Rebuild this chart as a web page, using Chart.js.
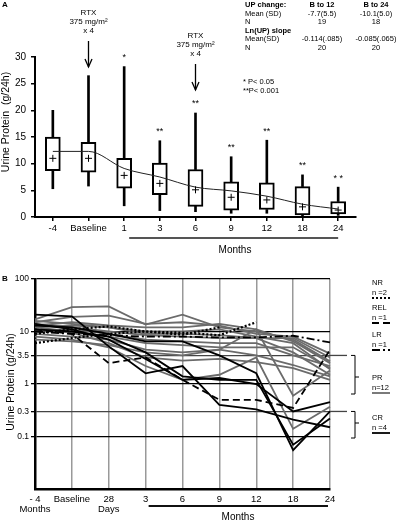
<!DOCTYPE html>
<html><head><meta charset="utf-8">
<script src="https://cdn.jsdelivr.net/npm/chart.js@4.4.1/dist/chart.umd.min.js"></script>
<style>
html,body{margin:0;padding:0;background:#fff;overflow:hidden;}
#ca{position:absolute;left:0;top:0;}
#cb{position:absolute;left:0;top:262px;}
</style></head>
<body>
<canvas id="ca" width="400" height="262"></canvas>
<canvas id="cb" width="400" height="261"></canvas>
<script>
const FONT = '"Liberation Sans", Arial, sans-serif';

/* ---------- Panel A data ---------- */
const timepointsA = ['-4', 'Baseline', '1', '3', '6', '9', '12', '18', '24'];
const whiskerMin  = [5.3, 5.8, 2.1, 1.2, 1.0, 0.7, 0.7, 0.2, 0.3];
const quartile1   = [8.7, 8.4, 5.4, 4.2, 2.0, 1.3, 1.4, 0.4, 0.6];
const quartile3   = [15.0, 14.0, 11.0, 10.1, 8.9, 6.6, 6.4, 5.7, 2.9];
const whiskerMax  = [20.0, 26.5, 28.2, 14.3, 19.5, 11.3, 14.4, 7.9, 5.6];
const meanUP      = [11.0, 11.0, 7.8, 6.3, 5.1, 3.7, 3.2, 1.9, 1.3];
const trendUP     = [12.3, 12.3, 9.1, 7.5, 5.6, 4.9, 3.9, 2.4, 1.5];
const significance = ['', '', '*', '**', '**', '**', '**', '**', '* *'];
const rtxDoseLines = ['RTX', '375 mg/m\u00B2', 'x 4'];
const rtxAtIndex = [1, 4];

const upChangeHeader = ['UP change:', 'B to 12', 'B to 24'];
const upChangeRows = [['Mean (SD)', '-7.7(5.5)', '-10.1(5.0)'], ['N', '19', '18']];
const slopeHeader = 'Ln(UP) slope';
const slopeRows = [['Mean(SD)', '-0.114(.085)', '-0.085(.065)'], ['N', '20', '20']];
const pValueNotes = ['* P< 0.05', '**P< 0.001'];

/* ---------- Panel B data ---------- */
const timepointsB = [['- 4', 'Months'], 'Baseline', ['28', 'Days'], '3', '6', '9', '12', '18', '24'];
const logTicks = [100, 10, 3.5, 1, 0.3, 0.1];

const nr1 = [6.0, 7.5, 9.0, 10.0, 9.5, 8.5, 15.0, null, null];
const nr2 = [9.0, 11.0, 12.5, 10.0, 8.7, 12.0, null, null, null];
const rel1 = [11.0, 9.0, 2.5, 3.2, 1.2, 0.5, 0.5, 0.35, 4.5];
const lr1 = [10.0, 9.0, 8.5, 8.0, 8.0, 7.7, 7.7, 8.3, 6.2];

const pr1  = [17, 29, 30, 13.5, 21, 12, 10, 7, 2.7];
const pr2  = [15, 19, 20, 14, 15, 13, 9, 8, 3.8];
const pr3  = [13, 15, 13, 12, 12, 14, 11, 6.5, 2.5];
const pr4  = [12, 13, 12, 10, 10, 11, 8, 6, 1.9];
const pr5  = [14, 12, 10, 8.5, 8, 7.5, 7.5, 4, 1.5];
const pr6  = [10, 11, 9, 7, 6.5, 6, 6, 3.5, 2.2];
const pr7  = [9, 8, 7, 4.5, 4, 4.5, 3.5, 2.3, 1.4];
const pr8  = [8, 7, 5, 2.2, 1.2, 1.5, 3.2, 0.14, 0.37];
const pr9  = [7, 6.5, 5.5, 4, 3.5, 4.5, 11, 0.6, 1.8];
const pr10 = [12, 10, 8, 6, 5.5, 5, 5, 5, 2.0];
const pr11 = [16, 14, 12, 9, 9, 8.5, 7.5, 7.5, 3.2];
const pr12 = [11, 9.5, 6, 3.2, 2.8, 3, 2.6, 2, 1.2];

const cr1 = [21, 19.5, 5.2, 1.6, 2.2, 0.4, 0.33, 0.21, 0.15];
const cr2 = [13, 12, 9, 6.5, 6.5, 3.5, 1.6, 0.055, 0.3];
const cr3 = [11, 10, 8, 4, 1.4, 1.2, 1.2, 0.07, 0.22];
const cr4 = [14, 11, 7, 3, 1.2, 1.3, 1.0, 0.3, 0.45];

const responseGroups = [
  { name: 'NR',  n: 'n =2',  series: [nr1, nr2], color: '#000', dash: [2, 2], width: 2.2 },
  { name: 'REL', n: 'n =1',  series: [rel1], color: '#000', dash: [7, 4], width: 1.8 },
  { name: 'LR',  n: 'n =1',  series: [lr1], color: '#000', dash: [8, 3, 2, 3], width: 1.8 },
  { name: 'PR',  n: 'n=12',  series: [pr1, pr2, pr3, pr4, pr5, pr6, pr7, pr8, pr9, pr10, pr11, pr12], color: '#6b6b6b', dash: [], width: 1.8 },
  { name: 'CR',  n: 'n =4',  series: [cr1, cr2, cr3, cr4], color: '#000', dash: [], width: 1.8 }
];

Chart.defaults.font.family = FONT;
Chart.defaults.color = '#000';

/* ---------- Panel A ---------- */
const annotA = {
  id: 'annotA',
  afterDraw(chart) {
    const { ctx, scales: { x, y } } = chart;
    ctx.save();
    ctx.fillStyle = '#000'; ctx.strokeStyle = '#000';
    ctx.textBaseline = 'middle';
    ctx.font = 'bold 8px ' + FONT; ctx.textAlign = 'left';
    ctx.fillText('A', 2, 5);
    // y title
    ctx.save();
    ctx.translate(6, 122); ctx.rotate(-Math.PI / 2);
    ctx.font = '10.5px ' + FONT; ctx.textAlign = 'center';
    ctx.fillText('Urine Protein  (g/24h)', 0, 0);
    ctx.restore();
    // significance stars
    ctx.font = '9px ' + FONT; ctx.textAlign = 'center';
    significance.forEach((s, i) => {
      if (!s) return;
      ctx.fillText(s, x.getPixelForValue(i), y.getPixelForValue(whiskerMax[i]) - 9);
    });
    // RTX annotations
    const tops = [13, 36];
    rtxAtIndex.forEach((idx, k) => {
      const px = x.getPixelForValue(idx);
      ctx.font = '8px ' + FONT; ctx.textAlign = 'center';
      rtxDoseLines.forEach((t, j) => ctx.fillText(t, px, tops[k] + j * 9));
      const y0 = tops[k] + 28, y1 = y0 + 26;
      ctx.lineWidth = 1.3;
      ctx.beginPath(); ctx.moveTo(px, y0); ctx.lineTo(px, y1); ctx.stroke();
      ctx.beginPath(); ctx.moveTo(px - 3.5, y1 - 8); ctx.lineTo(px, y1); ctx.lineTo(px + 3.5, y1 - 8); ctx.stroke();
    });
    // table
    const colL = 245, c1 = 322, c2 = 376;
    let ty = 5;
    const row = (cells, bold) => {
      ctx.font = (bold ? 'bold ' : '') + '7.5px ' + FONT;
      ctx.textAlign = 'left'; ctx.fillText(cells[0], colL, ty);
      ctx.textAlign = 'center';
      if (cells[1] !== undefined) ctx.fillText(cells[1], c1, ty);
      if (cells[2] !== undefined) ctx.fillText(cells[2], c2, ty);
      ty += 8.6;
    };
    row(upChangeHeader, true);
    upChangeRows.forEach(r => row(r, false));
    row([slopeHeader], true);
    slopeRows.forEach(r => row(r, false));
    ctx.font = '7.5px ' + FONT; ctx.textAlign = 'left';
    ctx.fillText(pValueNotes[0], 243, 82);
    ctx.fillText(pValueNotes[1], 243, 91);
    // Months label
    ctx.font = '10px ' + FONT; ctx.textAlign = 'center';
    ctx.fillText('Months', 235, 250);
    ctx.strokeStyle = '#555'; ctx.lineWidth = 2;
    ctx.beginPath(); ctx.moveTo(x.getPixelForValue(2) + 5, 238); ctx.lineTo(x.getPixelForValue(8), 238); ctx.stroke();
    ctx.restore();
  }
};

new Chart(document.getElementById('ca'), {
  data: {
    labels: timepointsA,
    datasets: [
      { type: 'bar', data: timepointsA.map((_, i) => [whiskerMin[i], quartile1[i]]), backgroundColor: '#000', barThickness: 2, grouped: false, order: 4 },
      { type: 'bar', data: timepointsA.map((_, i) => [quartile3[i], whiskerMax[i]]), backgroundColor: '#000', barThickness: 2, grouped: false, order: 4 },
      { type: 'bar', data: timepointsA.map((_, i) => [quartile1[i], quartile3[i]]), backgroundColor: '#fff', borderColor: '#000', borderWidth: 2, borderSkipped: false, barThickness: 15, grouped: false, order: 3 },
      { type: 'line', data: trendUP, borderColor: '#222', borderWidth: 1, pointRadius: 0, cubicInterpolationMode: 'monotone', order: 2 },
      { type: 'line', data: meanUP, showLine: false, pointStyle: 'cross', pointRadius: 3.5, borderColor: '#000', borderWidth: 1, order: 1 }
    ]
  },
  options: {
    responsive: false, animation: false, devicePixelRatio: 1,
    layout: { padding: { left: 0, right: 44, top: 57, bottom: 0 } },
    plugins: { legend: { display: false }, tooltip: { enabled: false } },
    scales: {
      x: {
        type: 'category', offset: true,
        grid: { offset: false, drawOnChartArea: false, drawTicks: true, tickLength: 4, color: '#000', lineWidth: 1.5 },
        border: { display: true, color: '#000', width: 2 },
        ticks: { font: { size: 9.5 }, color: '#000', padding: 2, maxRotation: 0, autoSkip: false },
        afterFit: s => { s.height = 45; }
      },
      y: {
        min: 0, max: 30,
        grid: { drawOnChartArea: false, drawTicks: true, tickLength: 4, color: '#000', lineWidth: 1.5 },
        border: { display: true, color: '#000', width: 2 },
        ticks: { stepSize: 5, font: { size: 10 }, color: '#000', padding: 5 },
        afterFit: s => { s.width = 35; }
      }
    }
  },
  plugins: [annotA]
});

/* ---------- Panel B ---------- */
const annotB = {
  id: 'annotB',
  afterDraw(chart) {
    const { ctx, chartArea: ca, scales: { x, y } } = chart;
    ctx.save();
    ctx.fillStyle = '#000'; ctx.strokeStyle = '#000'; ctx.textBaseline = 'middle';
    ctx.font = 'bold 8px ' + FONT; ctx.textAlign = 'left';
    ctx.fillText('B', 2, 17);
    ctx.save();
    ctx.translate(11, 120); ctx.rotate(-Math.PI / 2);
    ctx.font = '10.5px ' + FONT; ctx.textAlign = 'center';
    ctx.fillText('Urine Protein (g/24h)', 0, 0);
    ctx.restore();
    // extended threshold lines
    ctx.strokeStyle = '#444'; ctx.lineWidth = 1.3;
    [3.5, 0.3].forEach(v => {
      const py = y.getPixelForValue(v);
      ctx.beginPath(); ctx.moveTo(ca.right, py); ctx.lineTo(347, py); ctx.stroke();
    });
    // brackets
    ctx.strokeStyle = '#000'; ctx.lineWidth = 1;
    const bracket = (t, b, m) => {
      ctx.beginPath();
      ctx.moveTo(351, t); ctx.lineTo(355, t); ctx.lineTo(355, b); ctx.lineTo(351, b);
      ctx.moveTo(355, m); ctx.lineTo(359, m);
      ctx.stroke();
    };
    bracket(y.getPixelForValue(3.5), 132, 115);
    bracket(y.getPixelForValue(0.3), 176, 161);
    // legend
    const legY = [21, 46, 73, 116, 156];
    responseGroups.forEach((g, i) => {
      const ly = legY[i];
      ctx.fillStyle = '#000';
      ctx.font = '7.5px ' + FONT; ctx.textAlign = 'left';
      ctx.fillText(g.name, 372, ly);
      ctx.fillText(g.n, 372, ly + 9.5);
      ctx.strokeStyle = g.color; ctx.lineWidth = g.width; ctx.setLineDash(g.dash);
      ctx.beginPath(); ctx.moveTo(372, ly + 15); ctx.lineTo(390, ly + 15); ctx.stroke();
      ctx.setLineDash([]);
    });
    // months label
    ctx.fillStyle = '#000';
    ctx.font = '10px ' + FONT; ctx.textAlign = 'center';
    ctx.fillText('Months', 238, 255);
    ctx.strokeStyle = '#111'; ctx.lineWidth = 2;
    ctx.beginPath(); ctx.moveTo(x.getPixelForValue(3) + 3, 244); ctx.lineTo(x.getPixelForValue(8) - 2, 244); ctx.stroke();
    ctx.restore();
  }
};

const datasetsB = [];
responseGroups.forEach(g => {
  g.series.forEach(s => {
    datasetsB.push({
      type: 'line', data: s, borderColor: g.color, borderWidth: g.width, borderDash: g.dash,
      pointRadius: 0, tension: 0, spanGaps: false, order: g.name === 'PR' ? 2 : 1
    });
  });
});

new Chart(document.getElementById('cb'), {
  type: 'line',
  data: { labels: timepointsB, datasets: datasetsB },
  options: {
    responsive: false, animation: false, devicePixelRatio: 1,
    layout: { padding: { left: 0, right: 70, top: 17, bottom: 0 } },
    plugins: { legend: { display: false }, tooltip: { enabled: false } },
    scales: {
      x: {
        type: 'category', offset: false,
        grid: { color: '#999', lineWidth: 1.5, drawTicks: false },
        border: { display: true, color: '#000', width: 2.5 },
        ticks: { font: { size: 9.5, lineHeight: 1.05 }, color: '#000', padding: 5, maxRotation: 0, autoSkip: false },
        afterFit: s => { s.height = 34; }
      },
      y: {
        type: 'logarithmic', min: 0.01, max: 100,
        afterBuildTicks: s => { s.ticks = logTicks.map(v => ({ value: v })); },
        grid: {
          color: c => (c.tick && (c.tick.value === 3.5 || c.tick.value === 0.3)) ? '#444' : '#000',
          lineWidth: 1.3, drawTicks: true, tickLength: 4, tickColor: '#000'
        },
        border: { display: true, color: '#000', width: 2.5 },
        ticks: { font: { size: 8.5 }, color: '#000', padding: 2, callback: v => String(v) },
        afterFit: s => { s.width = 35; }
      }
    }
  },
  plugins: [annotB]
});
</script>
</body></html>
